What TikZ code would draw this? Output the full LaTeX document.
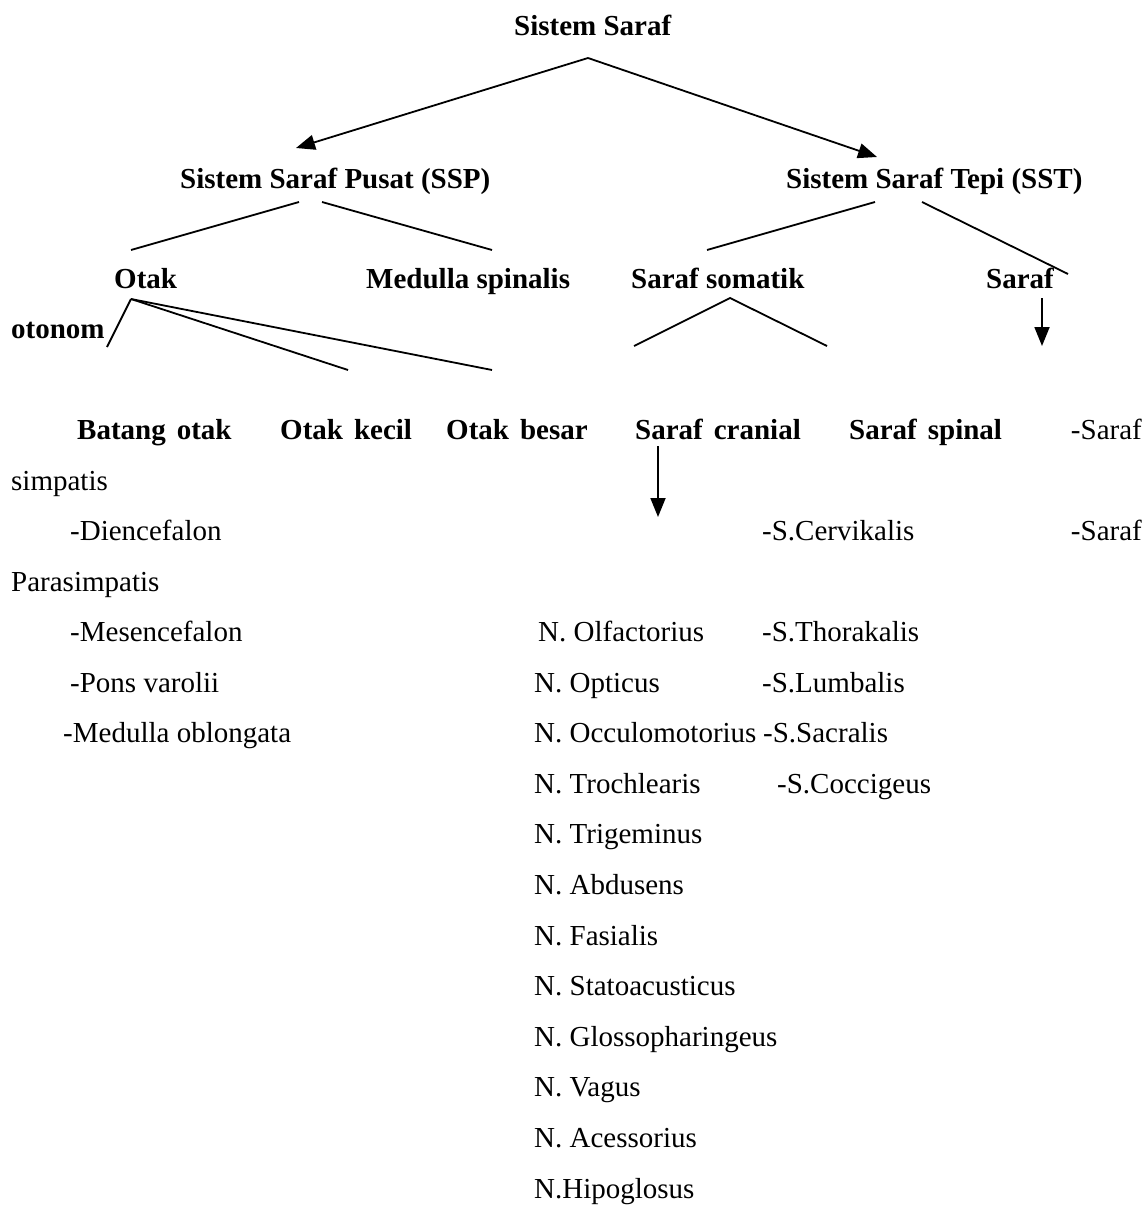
\documentclass[tikz,border=0pt]{standalone}
\usepackage{fontspec}
\setmainfont{Liberation Serif}
\usetikzlibrary{arrows.meta}
\newcommand\wsp{\hspace{11pt}}
\begin{document}
\begin{tikzpicture}[x=1pt,y=-1pt,
  txt/.style={anchor=base west, inner sep=0pt, font=\fontsize{29}{34}\selectfont},
  txtr/.style={anchor=base east, inner sep=0pt, font=\fontsize{29}{34}\selectfont},
  bld/.style={anchor=base west, inner sep=0pt, font=\fontsize{29}{34}\selectfont\bfseries},
  ln/.style={line width=1.8pt},
  arr/.style={line width=1.8pt, -{Triangle[length=19pt,width=15pt]}}]
\useasboundingbox (0,0) rectangle (1142,1206);
% headings
\node[bld] (root) at (514,36) {Sistem Saraf};
\node[bld] (ssp) at (180,189) {Sistem Saraf Pusat (SSP)};
\node[bld] (sst) at (786,189) {Sistem Saraf Tepi (SST)};
\node[bld] (otak) at (114,288) {Otak};
\node[bld] (meds) at (366,288) {Medulla spinalis};
\node[bld] (som) at (631,288) {Saraf somatik};
\node[bld] (otn) at (986,288) {Saraf};
\node[bld] (otn2) at (11,338) {otonom};
\node[bld] (batang) at (77,439) {Batang\wsp otak};
\node[bld] (kecil) at (280,439) {Otak\wsp kecil};
\node[bld] (besar) at (446,439) {Otak\wsp besar};
\node[bld] (cran) at (635,439) {Saraf\wsp cranial};
\node[bld] (spin) at (849,439) {Saraf\wsp spinal};
\node[txtr] (simp) at (1142,439) {-Saraf};
\node[txt] (simp2) at (11,490) {simpatis};
\node[txtr] (para) at (1142,540) {-Saraf};
\node[txt] (para2) at (11,591) {Parasimpatis};
% batang otak
\node[txt] (b1) at (70,540) {-Diencefalon};
\node[txt] (b2) at (70,641) {-Mesencefalon};
\node[txt] (b3) at (70,692) {-Pons varolii};
\node[txt] (b4) at (63,742) {-Medulla oblongata};
% spinal
\node[txt] (s1) at (762,540) {-S.Cervikalis};
\node[txt] (s2) at (762,641) {-S.Thorakalis};
\node[txt] (s3) at (762,692) {-S.Lumbalis};
\node[txt] (s4) at (763,742) {-S.Sacralis};
\node[txt] (s5) at (777,793) {-S.Coccigeus};
% cranial
\node[txt] (n1) at (538,641) {N. Olfactorius};
\node[txt] (n2) at (534,692) {N. Opticus};
\node[txt] (n3) at (534,742) {N. Occulomotorius};
\node[txt] (n4) at (534,793) {N. Trochlearis};
\node[txt] (n5) at (534,843) {N. Trigeminus};
\node[txt] (n6) at (534,894) {N. Abdusens};
\node[txt] (n7) at (534,945) {N. Fasialis};
\node[txt] (n8) at (534,995) {N. Statoacusticus};
\node[txt] (n9) at (534,1046) {N. Glossopharingeus};
\node[txt] (n10) at (534,1096) {N. Vagus};
\node[txt] (n11) at (534,1147) {N. Acessorius};
\node[txt] (n12) at (534,1198) {N.Hipoglosus};
% connector points
\coordinate (rootA) at (588,58);
\coordinate (sspT) at (296,148);
\coordinate (sstT) at (877,157);
\coordinate (sspL0) at (299,202);
\coordinate (sspL1) at (131,250);
\coordinate (sspR0) at (322,202);
\coordinate (sspR1) at (492,250);
\coordinate (sstL0) at (875,202);
\coordinate (sstL1) at (707,250);
\coordinate (sstR0) at (922,202);
\coordinate (sstR1) at (1068,274);
\coordinate (otakA) at (131,299);
\coordinate (otakS) at (107,347);
\coordinate (otakK) at (348,370);
\coordinate (otakB) at (492,370);
\coordinate (somA) at (730,298);
\coordinate (somL) at (634,346);
\coordinate (somR) at (827,346);
\coordinate (otnA0) at (1042,298);
\coordinate (otnA1) at (1042,346);
\coordinate (cranA0) at (658,446);
\coordinate (cranA1) at (658,517);
% connectors
\draw[arr] (rootA) -- (sspT);
\draw[arr] (rootA) -- (sstT);
\draw[ln] (sspL0) -- (sspL1);
\draw[ln] (sspR0) -- (sspR1);
\draw[ln] (sstL0) -- (sstL1);
\draw[ln] (sstR0) -- (sstR1);
\draw[ln] (otakA) -- (otakS);
\draw[ln] (otakA) -- (otakK);
\draw[ln] (otakA) -- (otakB);
\draw[ln] (somL) -- (somA) -- (somR);
\draw[arr] (otnA0) -- (otnA1);
\draw[arr] (cranA0) -- (cranA1);
\end{tikzpicture}
\end{document}
